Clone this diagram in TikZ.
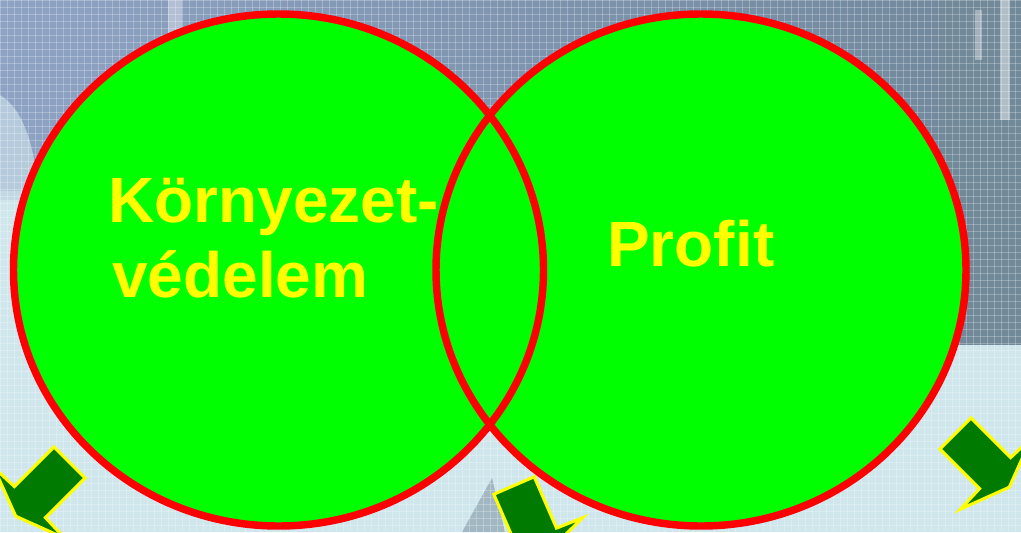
\documentclass[tikz,border=0pt]{standalone}
\usepackage{fontspec}
\setmainfont{Liberation Sans}
\begin{document}
\definecolor{bgbase}{HTML}{CFE6EC}
\definecolor{bgblue}{HTML}{8EA2C4}
\definecolor{bggray}{HTML}{70879A}
\definecolor{bgdark}{HTML}{72899A}
\definecolor{vennfill}{HTML}{00FF00}
\definecolor{vennline}{HTML}{FF0000}
\definecolor{labelyellow}{HTML}{FFFF00}
\definecolor{arrowgreen}{HTML}{007A00}
\tikzset{
  venn/.style={fill=vennfill},
  vennrim/.style={draw=vennline, line width=5.6pt},
  vennlabel/.style={text=labelyellow, inner sep=0pt, anchor=base west,
    font=\bfseries\fontsize{48pt}{56pt}\selectfont},
  arrowbody/.style={fill=arrowgreen, draw=labelyellow, line width=2.3pt, line join=miter},
  gridline/.style={draw=white, line width=0.45pt, opacity=0.25},
  pics/blockarrow/.style={code={
    \filldraw[arrowbody] (0,-22) -- (56,-22) -- (57,-50) -- (76,0)
      -- (57,50) -- (56,22) -- (0,22) -- cycle;
  }}
}
\begin{tikzpicture}[x=0.75pt,y=-0.75pt]
  \useasboundingbox (0,0) rectangle (1021,532);
  \clip (0,0) rectangle (1021,532);

  % backdrop
  \fill[bgbase] (0,0) rectangle (1021,532);
  \shade[left color=bgblue, right color=bggray] (0,0) rectangle (1021,190);
  \fill[bgbase!75!bgblue, opacity=0.8] (0,95) .. controls (25,110) and (35,150) .. (40,200) -- (0,200) -- cycle;
  \fill[white, opacity=0.35] (168,0) rectangle (182,45);
  \fill[bgdark] (940,0) rectangle (1021,345);
  \fill[white, opacity=0.45] (1000,0) rectangle (1010,120);
  \fill[white, opacity=0.35] (975,10) rectangle (982,60);
  \fill[bgdark!70!bgbase, opacity=0.7] (462,532) -- (492,478) -- (505,532) -- cycle;
  \foreach \gx in {0,7,...,1021} \draw[gridline] (\gx,0) -- (\gx,532);
  \foreach \gy in {0,7,...,532} \draw[gridline] (0,\gy) -- (1021,\gy);

  % the two sets
  \fill[venn] (278.5,270) ellipse [x radius=198.75pt, y radius=192pt];
  \fill[venn] (701,270) ellipse [x radius=198.75pt, y radius=192pt];
  \draw[vennrim] (278.5,270) ellipse [x radius=198.75pt, y radius=192pt];
  \draw[vennrim] (701,270) ellipse [x radius=198.75pt, y radius=192pt];

  % labels
  \node[vennlabel] (env1) at (108,222) {Környezet-};
  \node[vennlabel] (env2) at (112,297) {védelem};
  \node[vennlabel] (profit) at (607,266) {Profit};

  % block arrows along the bottom
  \pic[rotate=225] at (69.5,462.5) {blockarrow};
  \pic[rotate=-66.5] at (514,485.5) {blockarrow};
  \pic[rotate=-45] at (955.5,433.5) {blockarrow};
\end{tikzpicture}
\end{document}
